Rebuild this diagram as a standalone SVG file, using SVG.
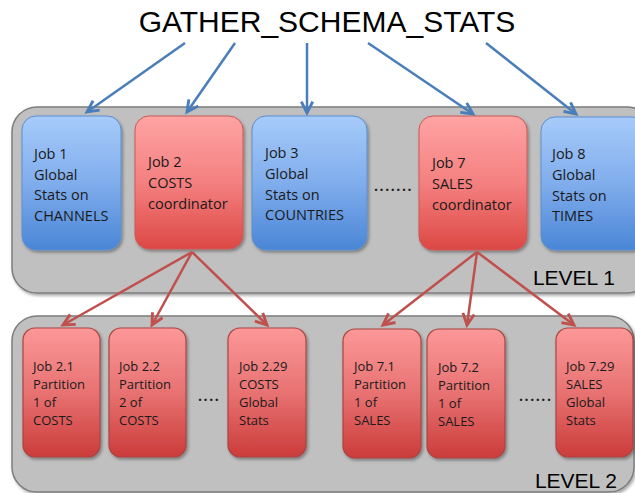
<svg xmlns="http://www.w3.org/2000/svg" width="635" height="493" viewBox="0 0 635 493">
<style>
.cont{fill:#c0c0c0;stroke:#7d7d7d;stroke-width:1.5}
.blue{fill:url(#gBlue);stroke:#5b8fd0;stroke-width:1}
.red{fill:url(#gRed);stroke:#c85a58;stroke-width:1}
.red2{fill:url(#gRed2);stroke:#a94543;stroke-width:1.2}
.t1{font-family:"Open Sans","Noto Sans",sans-serif;font-size:14.5px;fill:#1a1a1a}
.t2{font-family:"Open Sans","Noto Sans",sans-serif;font-size:13px;fill:#1a1a1a}
.dots{font-family:"Open Sans","Noto Sans",sans-serif;font-size:14px;font-weight:bold;fill:#1a1a1a;letter-spacing:1.6px}
.lvl{font-family:"Liberation Sans",Arial,sans-serif;font-size:21px;fill:#000}
.title{font-family:"Liberation Sans",Arial,sans-serif;font-size:30px;fill:#000}
.ab{stroke:#4a7ebb;stroke-width:2.5;fill:none;marker-end:url(#mBlue)}
.ar{stroke:#c0504d;stroke-width:2.5;fill:none;marker-end:url(#mRed)}
</style>
<defs>
<linearGradient id="gBlue" x1="0" y1="0" x2="0" y2="1">
<stop offset="0" stop-color="#a7cbfa"/><stop offset="0.5" stop-color="#80adec"/><stop offset="1" stop-color="#4a86d6"/>
</linearGradient>
<linearGradient id="gRed" x1="0" y1="0" x2="0" y2="1">
<stop offset="0" stop-color="#ffa3a3"/><stop offset="0.5" stop-color="#f48080"/><stop offset="1" stop-color="#dc4844"/>
</linearGradient>
<linearGradient id="gRed2" x1="0" y1="0" x2="0" y2="1">
<stop offset="0" stop-color="#fc9898"/><stop offset="0.5" stop-color="#e87272"/><stop offset="1" stop-color="#cb3c3a"/>
</linearGradient>
<filter id="sh" x="-10%" y="-10%" width="130%" height="130%">
<feDropShadow dx="1.5" dy="2" stdDeviation="1.5" flood-color="#000" flood-opacity="0.35"/>
</filter>
<marker id="mBlue" markerUnits="userSpaceOnUse" markerWidth="16" markerHeight="16" refX="11" refY="6" orient="auto" viewBox="0 0 14 12">
<path d="M1,1 L11,6 L1,11" fill="none" stroke="#4a7ebb" stroke-width="2.5"/>
</marker>
<marker id="mRed" markerUnits="userSpaceOnUse" markerWidth="16" markerHeight="16" refX="11" refY="6" orient="auto" viewBox="0 0 14 12">
<path d="M1,1 L11,6 L1,11" fill="none" stroke="#c0504d" stroke-width="2.5"/>
</marker>
</defs>
<rect width="635" height="493" fill="#ffffff"/>
<text class="title" x="327" y="32" text-anchor="middle">GATHER_SCHEMA_STATS</text>

<g id="level1">
<rect class="cont" x="12" y="107" width="640" height="186" rx="25" filter="url(#sh)"/>
<text class="lvl" x="615" y="285" text-anchor="end">LEVEL 1</text>
</g>
<g id="level2">
<rect class="cont" x="12" y="316" width="622" height="176" rx="25" filter="url(#sh)"/>
<text class="lvl" x="617" y="488" text-anchor="end">LEVEL 2</text>
</g>

<g id="job1">
<rect class="blue" x="22" y="116" width="99" height="134" rx="14" filter="url(#sh)"/>
<text class="t1" x="34" y="159">Job 1<tspan x="34" y="179.5">Global</tspan><tspan x="34" y="200">Stats on</tspan><tspan x="34" y="220.5">CHANNELS</tspan></text>
</g>
<g id="job2">
<rect class="red" x="135" y="116" width="108" height="133" rx="14" filter="url(#sh)"/>
<text class="t1" x="148" y="167">Job 2<tspan x="148" y="188">COSTS</tspan><tspan x="148" y="208.5">coordinator</tspan></text>
</g>
<g id="job3">
<rect class="blue" x="252" y="116" width="115" height="134" rx="14" filter="url(#sh)"/>
<text class="t1" x="265" y="158">Job 3<tspan x="265" y="179">Global</tspan><tspan x="265" y="199.5">Stats on</tspan><tspan x="265" y="220">COUNTRIES</tspan></text>
</g>
<text class="dots" x="374" y="191">.......</text>
<g id="job7">
<rect class="red" x="419" y="116" width="108" height="134" rx="14" filter="url(#sh)"/>
<text class="t1" x="432" y="168">Job 7<tspan x="432" y="189">SALES</tspan><tspan x="432" y="209.5">coordinator</tspan></text>
</g>
<g id="job8">
<rect class="blue" x="541" y="117" width="106" height="133" rx="14" filter="url(#sh)"/>
<text class="t1" x="552" y="159">Job 8<tspan x="552" y="180">Global</tspan><tspan x="552" y="200.5">Stats on</tspan><tspan x="552" y="221">TIMES</tspan></text>
</g>

<g id="job2_1">
<rect class="red2" x="23" y="328" width="77" height="129" rx="12" filter="url(#sh)"/>
<text class="t2" x="33" y="371">Job 2.1<tspan x="33" y="389">Partition</tspan><tspan x="33" y="407">1 of</tspan><tspan x="33" y="425">COSTS</tspan></text>
</g>
<g id="job2_2">
<rect class="red2" x="109" y="328" width="77" height="129" rx="12" filter="url(#sh)"/>
<text class="t2" x="119" y="371">Job 2.2<tspan x="119" y="389">Partition</tspan><tspan x="119" y="407">2 of</tspan><tspan x="119" y="425">COSTS</tspan></text>
</g>
<text class="dots" x="198" y="401">....</text>
<g id="job2_29">
<rect class="red2" x="228" y="328" width="78" height="129" rx="12" filter="url(#sh)"/>
<text class="t2" x="239" y="371">Job 2.29<tspan x="239" y="389">COSTS</tspan><tspan x="239" y="407">Global</tspan><tspan x="239" y="425">Stats</tspan></text>
</g>
<g id="job7_1">
<rect class="red2" x="343" y="329" width="78" height="129" rx="12" filter="url(#sh)"/>
<text class="t2" x="354" y="371">Job 7.1<tspan x="354" y="389">Partition</tspan><tspan x="354" y="407">1 of</tspan><tspan x="354" y="425">SALES</tspan></text>
</g>
<g id="job7_2">
<rect class="red2" x="427" y="329" width="78" height="129" rx="12" filter="url(#sh)"/>
<text class="t2" x="438" y="372">Job 7.2<tspan x="438" y="390">Partition</tspan><tspan x="438" y="408">1 of</tspan><tspan x="438" y="426">SALES</tspan></text>
</g>
<text class="dots" x="519" y="401">......</text>
<g id="job7_29">
<rect class="red2" x="556" y="328" width="77" height="129" rx="12" filter="url(#sh)"/>
<text class="t2" x="566" y="371">Job 7.29<tspan x="566" y="389">SALES</tspan><tspan x="566" y="407">Global</tspan><tspan x="566" y="425">Stats</tspan></text>
</g>

<g id="connectors">
<line class="ab" x1="185" y1="43" x2="87" y2="112"/>
<line class="ab" x1="235" y1="43" x2="187" y2="112"/>
<line class="ab" x1="307" y1="43" x2="307" y2="113"/>
<line class="ab" x1="368" y1="43" x2="473" y2="114"/>
<line class="ab" x1="486" y1="43" x2="576" y2="114"/>
<line class="ar" x1="192" y1="252" x2="63" y2="325"/>
<line class="ar" x1="192" y1="252" x2="152" y2="325"/>
<line class="ar" x1="192" y1="252" x2="267" y2="325"/>
<line class="ar" x1="477" y1="252" x2="383" y2="325"/>
<line class="ar" x1="477" y1="252" x2="467" y2="325"/>
<line class="ar" x1="477" y1="252" x2="574" y2="325"/>
</g>
</svg>
